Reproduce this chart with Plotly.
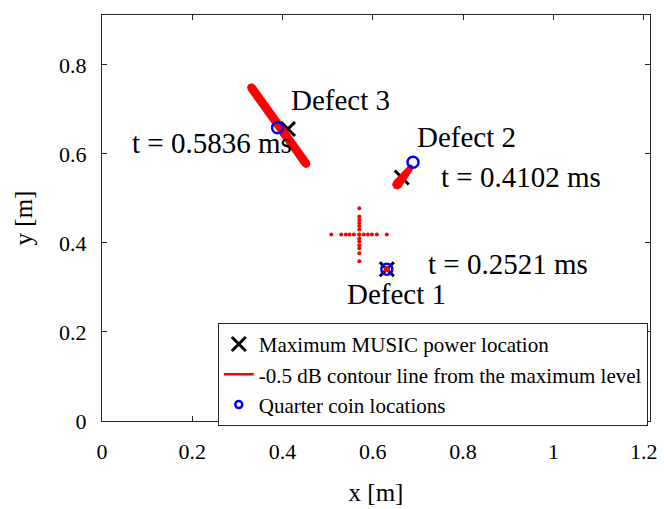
import plotly.graph_objects as go

# ---- data ----
max_x = [0.631, 0.664, 0.412]
max_y = [0.341, 0.547, 0.656]

coin_x = [0.631, 0.689, 0.389]
coin_y = [0.341, 0.581, 0.659]

# -0.5 dB contour outlines
c3_x = [0.3371, 0.4581, 0.4593, 0.4563, 0.4507, 0.4459, 0.3249, 0.3237, 0.3267, 0.3323, 0.3371]
c3_y = [0.7533, 0.5823, 0.5767, 0.5719, 0.5707, 0.5737, 0.7447, 0.7503, 0.7551, 0.7563, 0.7533]
c2_x = [0.6468, 0.6790, 0.6824, 0.6861, 0.6880, 0.6870, 0.6610, 0.6550, 0.6484, 0.6451, 0.6468]
c2_y = [0.5368, 0.5721, 0.5740, 0.5730, 0.5696, 0.5659, 0.5258, 0.5225, 0.5242, 0.5302, 0.5368]
c1_x = [0.631]
c1_y = [0.341]

# dotted red cross
cross_v_y = [0.478, 0.4595, 0.452, 0.445, 0.438, 0.430, 0.419, 0.410, 0.403,
             0.395, 0.388, 0.377, 0.359]
cross_h_x = [0.508, 0.530, 0.540, 0.548, 0.558, 0.570, 0.580, 0.589, 0.598,
             0.609, 0.631]
cross_cx = 0.570
cross_cy = 0.419

labels = ["Defect 1", "Defect 2", "Defect 3"]
times = ["t = 0.2521 ms", "t = 0.4102 ms", "t = 0.5836 ms"]

x_ticks = [0, 0.2, 0.4, 0.6, 0.8, 1.0, 1.2]
x_tick_text = ["0", "0.2", "0.4", "0.6", "0.8", "1", "1.2"]
y_ticks = [0, 0.2, 0.4, 0.6, 0.8]
y_tick_text = ["0", "0.2", "0.4", "0.6", "0.8"]

FONT = "Liberation Serif"
AX = "#262626"

fig = go.Figure()

# black X markers (maximum MUSIC power) - drawn first
fig.add_trace(go.Scatter(
    x=max_x, y=max_y, mode="markers",
    marker=dict(symbol="x-thin", size=14, color="black",
                line=dict(width=3, color="black")),
    name="Maximum MUSIC power location", showlegend=True))

# red contours
for cx, cy in [(c3_x, c3_y), (c2_x, c2_y)]:
    fig.add_trace(go.Scatter(
        x=cx, y=cy, mode="lines", fill="toself", fillcolor="red",
        line=dict(color="red", width=2), showlegend=False, hoverinfo="skip"))
fig.add_trace(go.Scatter(
    x=c1_x, y=c1_y, mode="markers",
    marker=dict(color="red", size=6), showlegend=False))

# dotted red cross
fig.add_trace(go.Scatter(
    x=[cross_cx] * len(cross_v_y) + cross_h_x,
    y=cross_v_y + [cross_cy] * len(cross_h_x),
    mode="markers", marker=dict(color="red", size=4),
    showlegend=False))

# legend entry for the contour line
fig.add_trace(go.Scatter(
    x=[None], y=[None], mode="lines", line=dict(color="red", width=2.5),
    name="-0.5 dB contour line from the maximum level"))

# blue coin circles
fig.add_trace(go.Scatter(
    x=coin_x, y=coin_y, mode="markers",
    marker=dict(symbol="circle-open", size=11, color="blue",
                line=dict(width=2.5, color="blue")),
    showlegend=False))
fig.add_trace(go.Scatter(
    x=[None], y=[None], mode="markers",
    marker=dict(symbol="circle-open", size=7, color="blue",
                line=dict(width=2.5, color="blue")),
    name="Quarter coin locations"))

ann_font = dict(family=FONT, size=29, color="black")
annots = [
    (0.414, 0.720, labels[2]),
    (0.062, 0.625, times[2]),
    (0.694, 0.638, labels[1]),
    (0.747, 0.547, times[1]),
    (0.718, 0.352, times[0]),
    (0.539, 0.286, labels[0]),
]
for ax_, ay_, txt in annots:
    fig.add_annotation(x=ax_, y=ay_, text=txt, showarrow=False,
                       xanchor="left", yanchor="middle", font=ann_font)

fig.update_layout(
    width=664, height=509,
    margin=dict(l=102, r=7, t=15, b=77),
    paper_bgcolor="white", plot_bgcolor="white",
    font=dict(family=FONT, color="black"),
    showlegend=True,
    legend=dict(x=0.996, y=-0.012, xanchor="right", yanchor="bottom",
                bgcolor="white", bordercolor=AX, borderwidth=1,
                font=dict(family=FONT, size=21, color="black"),
                tracegroupgap=0),
    xaxis=dict(range=[0, 1.214], tickvals=x_ticks, ticktext=x_tick_text,
               showgrid=False, zeroline=False, showline=True, linecolor=AX,
               linewidth=1, mirror="allticks", ticks="inside", ticklen=5,
               tickcolor=AX, tickfont=dict(family=FONT, size=22, color="black"),
               ticklabelstandoff=11,
               title=dict(text="x [m]", font=dict(family=FONT, size=25, color="black"),
                          standoff=20)),
    yaxis=dict(range=[0, 0.912], tickvals=y_ticks, ticktext=y_tick_text,
               showgrid=False, zeroline=False, showline=True, linecolor=AX,
               linewidth=1, mirror="allticks", ticks="inside", ticklen=5,
               tickcolor=AX, tickfont=dict(family=FONT, size=22, color="black"),
               ticklabelstandoff=10,
               title=dict(text="y [m]", font=dict(family=FONT, size=25, color="black"),
                          standoff=19)),
)

fig.write_html("out.html")
